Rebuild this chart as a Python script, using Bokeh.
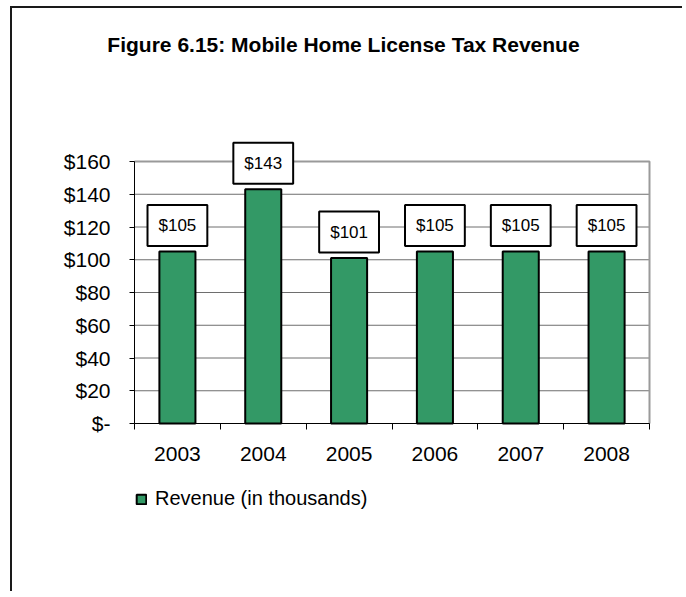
from bokeh.plotting import figure
from bokeh.models import Range1d, FixedTicker, Label, Legend, LegendItem, ColumnDataSource
from bokeh.embed import file_html
from bokeh.resources import INLINE

# ---- data ----
years = ["2003", "2004", "2005", "2006", "2007", "2008"]
revenue = [105, 143, 101, 105, 105, 105]
y_ticks = [0, 20, 40, 60, 80, 100, 120, 140, 160]
y_tick_labels = ["$-", "$20", "$40", "$60", "$80", "$100", "$120", "$140", "$160"]
title_text = "Figure 6.15: Mobile Home License Tax Revenue"
series_name = "Revenue (in thousands)"

FONT = "Liberation Sans"
GREEN = "#339966"

# ---- layout (page pixels); the frame covers the whole canvas ----
ORIGIN_X, ORIGIN_Y = 12, 8          # canvas origin after margin + border
W, H = 672, 585
PLOT_L, PLOT_R = 134, 649           # plot area left / right
PLOT_T, PLOT_B = 161, 423           # y of top tick / baseline

n = len(years)
y0, y_max = y_ticks[0], y_ticks[-1]
xpx = (PLOT_R - PLOT_L) / n
ypx = (PLOT_B - PLOT_T) / (y_max - y0)
x_start = -(PLOT_L - ORIGIN_X) / xpx
x_end = n + (ORIGIN_X + W - PLOT_R) / xpx
y_end = y_max + (PLOT_T - ORIGIN_Y) / ypx
y_start = y0 - (ORIGIN_Y + H - PLOT_B) / ypx

x_pos = [i + 0.5 for i in range(n)]
bar_labels = [f"${v}" for v in revenue]
source = ColumnDataSource(dict(x=x_pos, top=revenue, year=years, label=bar_labels))

p = figure(width=W, height=H, output_backend="svg", toolbar_location=None,
           x_range=Range1d(x_start, x_end), y_range=Range1d(y_start, y_end),
           min_border=0)
p.styles = {"margin-left": "10px", "margin-top": "6px",
            "border-left": "2px solid #1a1a1a", "border-top": "2px solid #1a1a1a"}
p.outline_line_color = None
p.xgrid.visible = False
p.ygrid.visible = False

# horizontal gridlines across the plot area
p.segment(x0=[0] * len(y_ticks), x1=[n] * len(y_ticks), y0=y_ticks, y1=y_ticks,
          line_color="#6e6e6e", line_width=1)

bars = p.vbar(x="x", top="top", width=0.42, source=source,
              fill_color=GREEN, line_color="black", line_width=2)

# plot-area border (top and right, grey)
p.line([0, n, n], [y_max, y_max, y0], line_color="#9a9a9a", line_width=2)

# x axis: labels at category centres, tick marks at category boundaries
p.xaxis.fixed_location = y0
p.xaxis.bounds = (0, n)
p.xaxis.ticker = FixedTicker(ticks=x_pos, minor_ticks=list(range(n + 1)))
p.xaxis.major_label_overrides = {x: y for x, y in zip(x_pos, years)}
p.xaxis.major_tick_out = 0
p.xaxis.major_tick_in = 0
p.xaxis.minor_tick_out = 6
p.xaxis.minor_tick_in = 0
p.xaxis.minor_tick_line_color = "black"
p.xaxis.axis_line_color = "black"
p.xaxis.major_label_standoff = 17
p.xaxis.major_label_text_font = FONT
p.xaxis.major_label_text_font_size = "21px"
p.xaxis.major_label_text_color = "black"

# y axis
p.yaxis.fixed_location = 0
p.yaxis.bounds = (y0, y_max)
p.yaxis.ticker = FixedTicker(ticks=y_ticks)
p.yaxis.major_label_overrides = {t: l for t, l in zip(y_ticks, y_tick_labels)}
p.yaxis.major_tick_out = 5
p.yaxis.major_tick_in = 0
p.yaxis.minor_tick_line_color = None
p.yaxis.axis_line_color = "black"
p.yaxis.major_label_standoff = 19
p.yaxis.major_label_text_font = FONT
p.yaxis.major_label_text_font_size = "21px"
p.yaxis.major_label_text_color = "black"

# data labels in boxes
for x, v, t in zip(x_pos, revenue, bar_labels):
    p.add_layout(Label(x=x, y=v, text=t, y_offset=26, text_align="center", text_baseline="middle",
                       text_font=FONT, text_font_size="17px", text_color="black",
                       background_fill_color="white", border_line_color="black",
                       border_line_width=2, padding=11))

# title
p.add_layout(Label(x=343 - ORIGIN_X, y=ORIGIN_Y + H - 44, x_units="screen", y_units="screen",
                   text=title_text, text_align="center", text_baseline="middle",
                   text_font=FONT, text_font_size="21px", text_font_style="bold",
                   text_color="black"))

legend = Legend(items=[LegendItem(label=series_name, renderers=[bars])],
                location=(135 - ORIGIN_X, ORIGIN_Y + H - 510), orientation="horizontal",
                padding=0, margin=0, border_line_color=None, background_fill_alpha=0,
                glyph_width=12, glyph_height=12, label_standoff=8,
                label_text_font=FONT, label_text_font_size="20px",
                label_text_color="black")
p.add_layout(legend)

open("out.html", "w").write(file_html(p, INLINE))
